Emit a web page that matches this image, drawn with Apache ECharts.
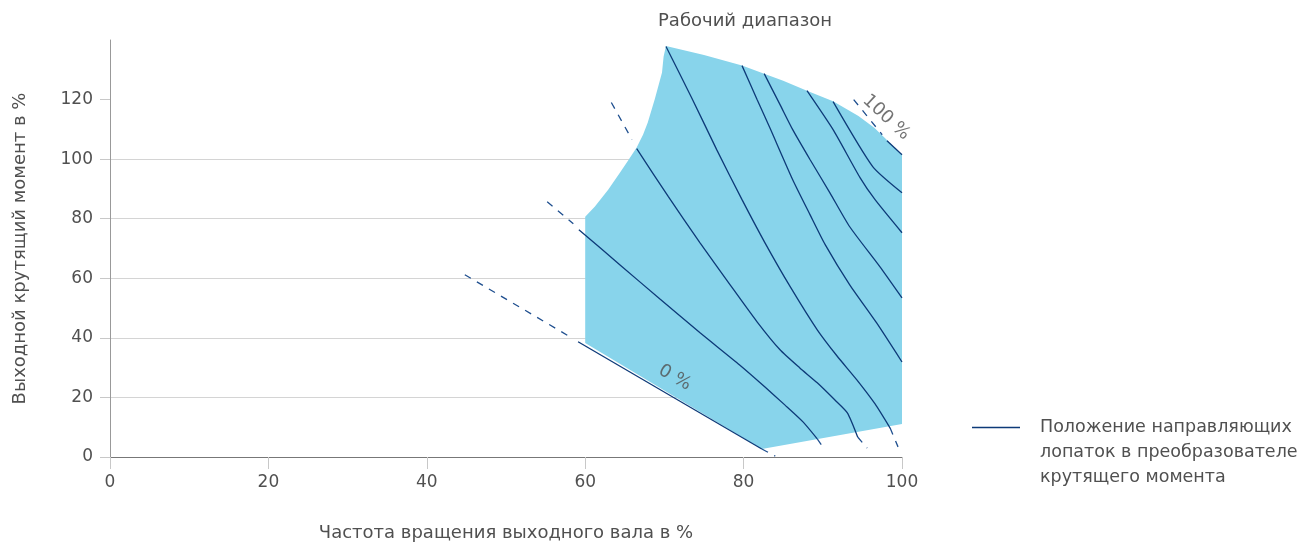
<!DOCTYPE html>
<html>
<head>
<meta charset="utf-8">
<script src="https://cdn.jsdelivr.net/npm/echarts@6/dist/echarts.min.js"></script>
<style>
  html, body { margin: 0; padding: 0; background: #ffffff; }
  #chart { width: 1307px; height: 543px; }
</style>
</head>
<body>
<div id="chart"></div>
<script>
// Axis ticks (speed % on x, torque % on y)
const xTicks = [0, 20, 40, 60, 80, 100];
const yTicks = [0, 20, 40, 60, 80, 100, 120];

// Outline of the working range, [speed %, torque %]
const workingRange = [
  [70.2, 138.0], [75.0, 135.0], [79.8, 131.4], [82.6, 128.7], [85.0, 126.3],
  [88.0, 123.0], [91.3, 119.4], [94.5, 114.5], [96.5, 110.5], [98.1, 106.4],
  [100, 101.5], [100, 11.1], [82.3, 2.7], [60, 38.3], [60, 80.7],
  [61.2, 84.0], [62.9, 89.7], [64.4, 95.5], [65.4, 99.5], [66.5, 103.9],
  [67.3, 108.2], [67.9, 112.3], [68.8, 120.3], [69.7, 129.1], [69.9, 134.5]
];

// Guide vane position curves inside the working range (0 % ... 100 %)
const vane0 = [[59.1, 38.7], [82.3, 2.7]];
const vane1 = [[59.2, 76.3], [64.4, 64.5], [69.4, 53.1], [74.5, 41.7], [79.5, 30.9],
               [82.7, 23.5], [85.2, 17.5], [87.5, 11.8], [89.3, 6.1]];
const vane2 = [[66.5, 103.5], [70.5, 87.4], [74.5, 71.9], [78.3, 57.8], [81.7, 45.4], [84.6, 36.0],
               [87.1, 29.9], [89.3, 24.9], [91.5, 19.2], [93.1, 14.8], [94.4, 6.7]];
const vane3 = [[70.2, 137.8], [73.5, 120.3], [76.6, 103.2], [79.8, 86.4], [82.7, 71.9], [85.9, 57.1],
               [89.3, 42.7], [91.8, 33.9], [94.3, 25.9], [96.6, 17.8], [98.5, 9.7]];
const vane4 = [[79.8, 131.4], [81.7, 120.0], [83.3, 110.6], [86.2, 93.1], [88.4, 81.3], [90.3, 71.3],
               [93.4, 57.8], [96.8, 45.0], [100, 31.9]];
const vane5 = [[82.6, 128.7], [84.6, 118.3], [86.2, 109.9], [88.4, 99.8], [90.9, 88.7], [93.4, 77.3],
               [97.2, 63.9], [100, 53.4]];
const vane6 = [[88.0, 123.0], [91.3, 109.9], [94.7, 93.8], [96.6, 86.4], [100, 75.3]];
const vane7 = [[91.3, 119.3], [96.3, 97.5], [100, 88.7]];
const vane8 = [[98.1, 106.2], [100, 101.5]];

// Extensions of the curves outside the working range
const ext0a = [[44.8, 61.2], [58.3, 40.0]];
const ext0b = [[82.3, 2.7], [84.0, 0.3]];
const ext1a = [[55.2, 85.7], [58.5, 78.3]];
const ext1b = [[89.3, 6.1], [90.0, 3.4]];
const ext2a = [[63.3, 119.0], [65.9, 106.6]];
const ext2b = [[94.4, 6.7], [95.6, 3.0]];
const ext3b = [[98.5, 9.7], [99.5, 3.4]];
const ext8a = [[93.9, 120.0], [97.5, 108.2]];

// Curve captions
const captionTexts = ['0 %', '100 %'];
const captionAnchors = [[71.3, 26.6], [98.0, 114.0]];

const vaneName = 'Положение направляющих лопаток в преобразователе крутящего момента';
const legendLines = ['Положение направляющих', 'лопаток в преобразователе', 'крутящего момента'];

const FONT = '"DejaVu Sans", "Liberation Sans", sans-serif';
const TEXT = '#505050';
const NAVY = '#0d3a78';

const solidCurves = [vane0, vane1, vane2, vane3, vane4, vane5, vane6, vane7, vane8];
const dashedCurves = [ext0a, ext0b, ext1a, ext1b, ext2a, ext2b, ext3b, ext8a];

const series = [];

series.push({
  type: 'custom',
  name: 'Рабочий диапазон',
  silent: true,
  z: 1,
  data: [[0, 0]],
  renderItem: function (params, api) {
    return {
      type: 'polygon',
      shape: { points: workingRange.map(function (p) { return api.coord(p); }) },
      style: { fill: '#88d4eb' }
    };
  }
});

solidCurves.forEach(function (c) {
  series.push({
    type: 'line', name: vaneName, data: c, showSymbol: false, symbol: 'none',
    smooth: 0.2, silent: true, z: 3,
    lineStyle: { color: NAVY, width: 1.3 }
  });
});

dashedCurves.forEach(function (c, i) {
  series.push({
    type: 'line', name: 'ext' + i, data: c, showSymbol: false, symbol: 'none',
    silent: true, z: 3,
    lineStyle: { color: '#1f4f8f', width: 1.3, type: [7, 7] }
  });
});

const captionRotation = [-30, -43];
captionTexts.forEach(function (t, i) {
  series.push({
    type: 'scatter', name: 'caption' + i, silent: true, z: 4,
    symbolSize: 0,
    data: [captionAnchors[i]],
    label: {
      show: true, position: 'inside', formatter: t, rotate: captionRotation[i],
      fontFamily: FONT, fontSize: 18, color: TEXT
    }
  });
});

const chart = echarts.init(document.getElementById('chart'), null, { renderer: 'canvas' });
chart.setOption({
  animation: false,
  backgroundColor: '#ffffff',
  title: {
    text: 'Рабочий диапазон',
    left: 658, top: 12,
    padding: 0,
    textStyle: { fontFamily: FONT, fontSize: 18, fontWeight: 'normal', color: TEXT }
  },
  legend: {
    data: [vaneName],
    left: 972, top: 365, padding: 0,
    icon: 'rect', itemWidth: 48, itemHeight: 1.5,
    selectedMode: false,
    formatter: function () { return '\n\n' + legendLines.join('\n'); },
    itemStyle: { color: NAVY },
    textStyle: { fontFamily: FONT, fontSize: 17.5, color: TEXT, lineHeight: 25, padding: [0, 0, 0, 15] }
  },
  grid: { left: 110, right: 405, top: 40, bottom: 86, containLabel: false, outerBoundsMode: 'none' },
  xAxis: {
    type: 'value', min: 0, max: 100, interval: 20,
    name: 'Частота вращения выходного вала в %',
    nameLocation: 'middle', nameGap: 67,
    nameTextStyle: { fontFamily: FONT, fontSize: 18, color: TEXT },
    axisLine: { show: true, lineStyle: { color: '#777777', width: 1 } },
    axisTick: { show: true, length: 12, lineStyle: { color: '#c8c8c8' } },
    axisLabel: { fontFamily: FONT, fontSize: 17, color: TEXT, margin: 17,
                 customValues: xTicks },
    splitLine: { show: false }
  },
  yAxis: {
    type: 'value', min: 0, max: 140, interval: 20,
    name: 'Выходной крутящий момент в %',
    nameLocation: 'middle', nameGap: 81, nameRotate: 90,
    nameTextStyle: { fontFamily: FONT, fontSize: 18, color: TEXT },
    axisLine: { show: true, lineStyle: { color: '#999999', width: 1 } },
    axisTick: { show: true, length: 10, lineStyle: { color: '#c8c8c8' }, customValues: yTicks },
    axisLabel: { fontFamily: FONT, fontSize: 17, color: TEXT, margin: 17,
                 customValues: yTicks },
    splitLine: { show: true, showMaxLine: false, lineStyle: { color: '#d4d4d4', width: 1 } }
  },
  series: series
});
</script>
</body>
</html>
